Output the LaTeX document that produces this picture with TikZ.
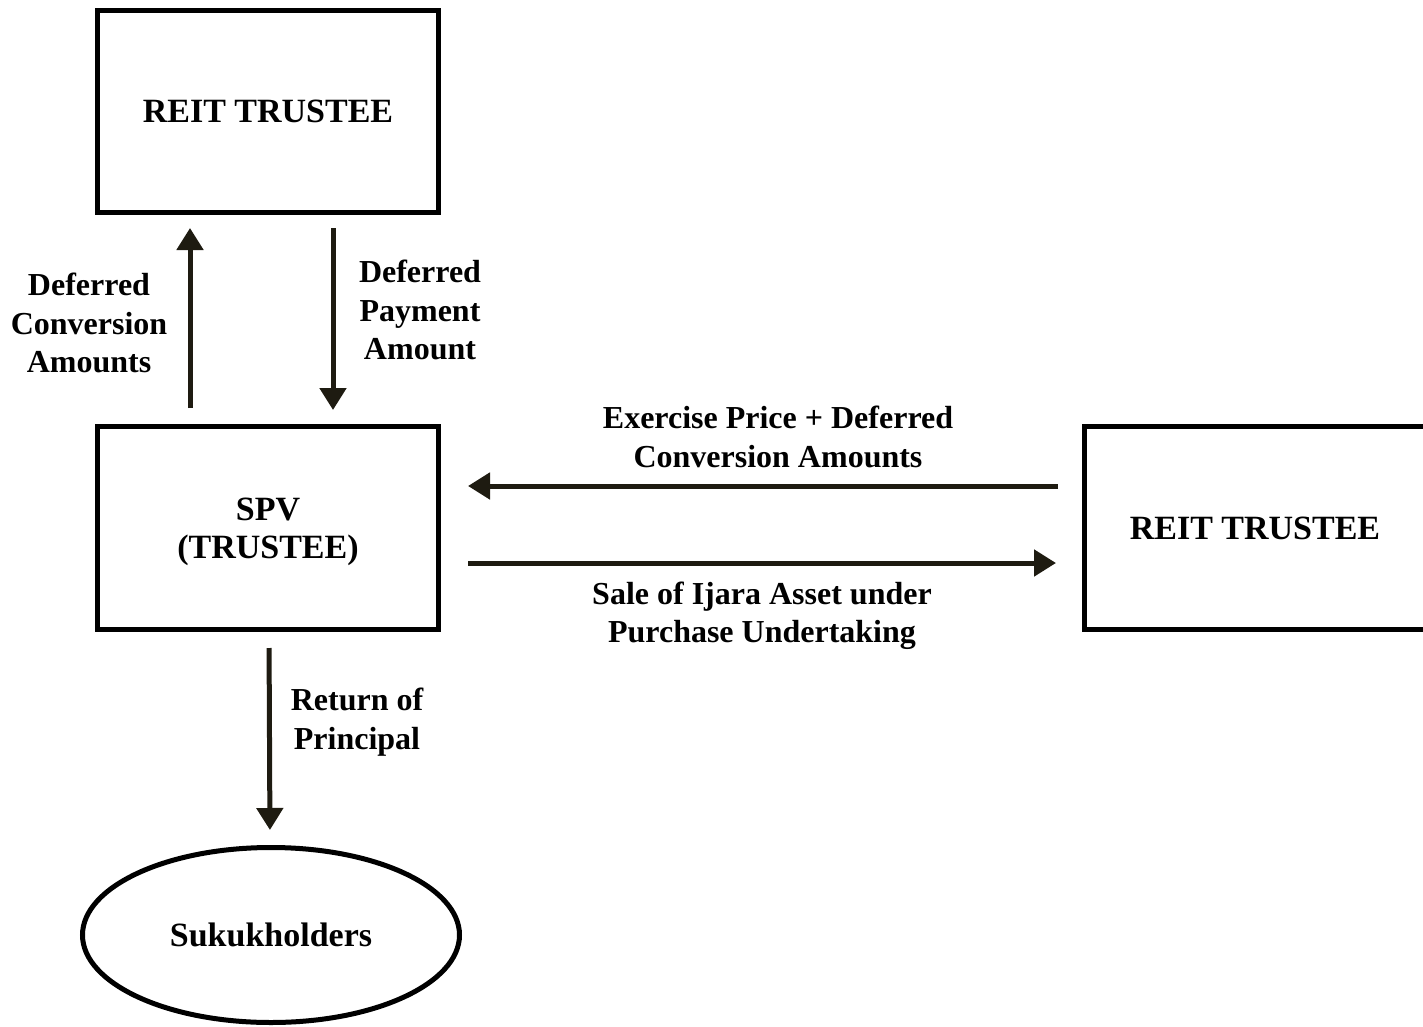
\documentclass[tikz,border=0pt]{standalone}
\usepackage{fontspec}
\setmainfont{Liberation Serif}
\usetikzlibrary{arrows.meta,shapes.geometric}
\definecolor{arrcol}{RGB}{30,27,17}
\begin{document}
\begin{tikzpicture}[x=1pt,y=-1pt,
  lbl/.style={font=\fontsize{32}{38.5}\selectfont\bfseries, align=center, inner sep=0pt},
  boxnode/.style={draw=black, line width=5pt, minimum width=341pt, minimum height=202pt, inner sep=0pt, font=\fontsize{34}{38.5}\selectfont\bfseries, align=center},
  arr/.style={draw=arrcol, line width=5pt, -{Triangle[length=22pt,width=26pt]}}
]
\useasboundingbox (0,0) rectangle (1423,1027);
\node[boxnode] (top) at (268,111.5) {REIT TRUSTEE};
\node[boxnode, minimum height=203pt] (spv) at (268,528) {\rule{0pt}{30pt}SPV\\(TRUSTEE)};
\node[boxnode, minimum height=203pt] (right) at (1255,528) {REIT TRUSTEE};
\node[draw=black, line width=5pt, ellipse, minimum width=377pt, minimum height=175pt, inner sep=0pt, font=\fontsize{34}{38.5}\selectfont\bfseries] (suk) at (271,935) {Sukukholders};

\draw[arr, shorten <=16pt, shorten >=13pt] ([xshift=-78pt]spv.north) -- ([xshift=-78pt]top.south);
\draw[arr, shorten <=13pt, shorten >=14pt] ([xshift=65pt]top.south) -- ([xshift=65pt]spv.north);
\draw[arr, shorten <=24pt, shorten >=27pt] ([yshift=42pt]right.west) -- ([yshift=42pt]spv.east);
\draw[arr, shorten <=27pt, shorten >=26pt] ([yshift=-35pt]spv.east) -- ([yshift=-35pt]right.west);
\draw[arr, shorten <=16pt, shorten >=15pt] ([xshift=1pt]spv.south) -- ([xshift=-1pt]suk.north);

\node[lbl] (l1) at (89,323) {Deferred\\Conversion\\Amounts};
\node[lbl] (l2) at (420,310) {Deferred\\Payment\\Amount};
\node[lbl] (l3) at (778,437) {Exercise Price + Deferred\\Conversion Amounts};
\node[lbl] (l4) at (762,616) {Sale of Ijara Asset under\\Purchase Undertaking};
\node[lbl] (l5) at (357,722) {Return of\\Principal};
\end{tikzpicture}
\end{document}
